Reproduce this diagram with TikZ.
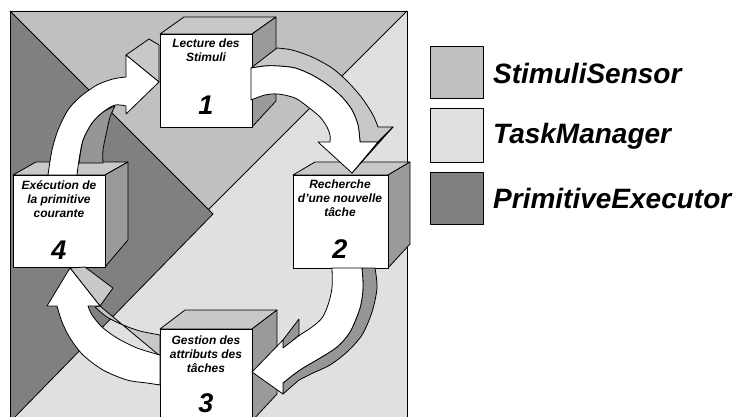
\documentclass[tikz,border=0pt]{standalone}
\usepackage{fontspec}
\setmainfont{Liberation Sans}
\definecolor{ssgray}{HTML}{C0C0C0}
\definecolor{tmgray}{HTML}{E0E0E0}
\definecolor{pegray}{HTML}{808080}
\definecolor{boxtop}{HTML}{C8C8C8}
\definecolor{boxside}{HTML}{9A9A9A}
\definecolor{bandlight}{HTML}{C8C8C8}
\definecolor{banddark}{HTML}{969696}

\tikzset{
  ol/.style={draw=black, line width=0.8pt, line join=round},
  facefront/.style={ol, fill=white},
  facetop/.style={ol, fill=boxtop},
  faceside/.style={ol, fill=boxside},
  bandL/.style={ol, fill=bandlight},
  bandD/.style={ol, fill=banddark},
  arrowface/.style={ol, fill=white},
  boxlabel/.style={font=\bfseries\itshape\fontsize{12}{14}\selectfont, align=center, inner sep=0pt},
  boxnum/.style={font=\bfseries\itshape\fontsize{27}{30}\selectfont, inner sep=0pt},
  legendlabel/.style={font=\bfseries\itshape\fontsize{28}{32}\selectfont, anchor=west, inner sep=0pt},
  legendbox/.style={ol, line width=1pt}
}

% oblique box: front x1 y1 x2 y2, depth dx, top depth dy, bottom depth dy
\newcommand{\drawcube}[7]{%
  \pgfmathsetmacro\cbRx{#3+#5}%
  \pgfmathsetmacro\cbLx{#1+#5}%
  \pgfmathsetmacro\cbTy{#2+#6}%
  \pgfmathsetmacro\cbBy{#4+#7}%
  \path[facetop] (#1,#2) -- (\cbLx,\cbTy) -- (\cbRx,\cbTy) -- (#3,#2) -- cycle;
  \path[faceside] (#3,#2) -- (\cbRx,\cbTy) -- (\cbRx,\cbBy) -- (#3,#4) -- cycle;
  \path[facefront] (#1,#2) rectangle (#3,#4);
}

\begin{document}
\begin{tikzpicture}[x=1pt,y=-1pt]
\useasboundingbox (0,0) rectangle (736,417);
\begin{scope}
\clip (0,0) rectangle (736,417);

% background panel split into three regions
\fill[tmgray] (10,11) rectangle (407,422);
\fill[ssgray] (10,11) -- (407,11) -- (208.5,209.5) -- cycle;
\fill[pegray] (10,11) -- (213,214) -- (10,422) -- cycle;
\draw[ol] (10,11) -- (213,214) -- (10,422);
\draw[ol] (407,11) -- (208.5,209.5);
\draw[ol] (10,11) rectangle (407,422);

% the four process boxes
\drawcube{160}{34}{252}{127}{24}{-17}{-26}
\drawcube{293}{175}{388}{268}{22}{-13}{-24}
\drawcube{160}{329}{252}{421}{25}{-19}{-27}
\drawcube{13}{175}{105}{267}{23}{-13}{-27}

% arrow 4 -> 1
\path[bandL] (126,55) -- (149,39) -- (159,45) -- (159,82) -- cycle;
\path[bandD] plot[smooth] coordinates {(79,163) (83,140) (92,123) (103,112) (115,106)}
  -- plot[smooth] coordinates {(115,106) (110,117) (107,130) (103,150) (103,163)} -- cycle;
\path[arrowface] plot[smooth] coordinates {(48,175) (52,150) (58,130) (68,110) (80,97) (97,85) (113,79) (126,77)}
  -- (126,55) -- (159,82) -- (126,114) -- (126,106)
  -- plot[smooth] coordinates {(126,106) (115,105) (103,112) (92,123) (83,140) (79,160) (77,175)} -- cycle;

% arrow 1 -> 2
\path[bandL] (251,68)
  -- plot[smooth] coordinates {(277,48) (292,50) (312,57) (332,68) (348,82) (362,98) (373,115) (378,127)}
  -- (393,127) -- (378,142) -- (360,142)
  -- plot[smooth] coordinates {(360,142) (358,125) (352,110) (342,97) (328,85) (312,75) (295,68) (278,66) (265,66) (251,68)} -- cycle;
\path[bandD] (378,142) -- (393,127) -- (352,173) -- cycle;
\path[arrowface] plot[smooth] coordinates {(251,68) (265,66) (278,66) (295,68) (312,75) (328,85) (342,97) (352,110) (358,125) (360,142)}
  -- (378,142) -- (352,173) -- (318,142) -- (330,142)
  -- plot[smooth] coordinates {(330,142) (330,135) (327,127) (320,117) (308,107) (295,98) (278,94) (265,95) (251,100)} -- cycle;

% arrow 2 -> 3
\path[bandD] plot[smooth] coordinates {(362,268) (363,288) (360,308) (350,332) (337,347) (320,358) (303,368) (293,375) (283,383)}
  -- (283,394) -- (299,380)
  -- plot[smooth] coordinates {(299,380) (313,373) (330,365) (347,352) (362,335) (372,312) (377,288) (375,268)} -- cycle;
\path[bandD] (283,340) -- (299,319) -- (299,335) -- (283,350) -- cycle;
\path[arrowface] plot[smooth] coordinates {(332,268) (332,288) (328,305) (322,318) (312,327) (300,335) (283,348)}
  -- (283,340) -- (252,372) -- (283,394) -- (283,383)
  -- plot[smooth] coordinates {(283,383) (293,375) (303,368) (320,358) (337,347) (350,332) (360,308) (363,288) (362,268)} -- cycle;

% arrow 3 -> 4
\path[bandL] (70,268) -- (85,267) -- (113,288) -- (100,306) -- cycle;
\path[bandL] plot[smooth] coordinates {(160,335) (140,331) (123,325) (107,317) (95,307)}
  -- (100,306) -- (160,356) -- cycle;
\path[arrowface] (70,268) -- (100,306) -- (88,306)
  -- plot[smooth] coordinates {(88,306) (92,315) (102,327) (117,338) (137,348) (160,355)}
  -- (160,385)
  -- plot[smooth] coordinates {(160,385) (147,383) (127,380) (103,370) (83,355) (70,338) (62,322) (57,306)}
  -- (47,306) -- cycle;

% box labels
\node[boxlabel] (l1) at (206,50) {Lecture des\\Stimuli};
\node[boxnum] (n1) at (206,105) {1};
\node[boxlabel] (l2) at (340,198) {Recherche\\d'une nouvelle\\tâche};
\node[boxnum] (n2) at (340,249) {2};
\node[boxlabel] (l3) at (206,354) {Gestion des\\attributs des\\tâches};
\node[boxnum] (n3) at (206,403) {3};
\node[boxlabel] (l4) at (59,199) {Exécution de\\la primitive\\courante};
\node[boxnum] (n4) at (59,250) {4};

\end{scope}

% legend
\path[legendbox, fill=ssgray] (430,47) rectangle (483,99);
\path[legendbox, fill=tmgray] (430,109) rectangle (483,162);
\path[legendbox, fill=pegray] (430,172) rectangle (483,224);
\node[legendlabel] (lg1) at (493,73) {StimuliSensor};
\node[legendlabel] (lg2) at (493,136) {TaskManager};
\node[legendlabel] (lg3) at (493,198) {PrimitiveExecutor};
\end{tikzpicture}
\end{document}
